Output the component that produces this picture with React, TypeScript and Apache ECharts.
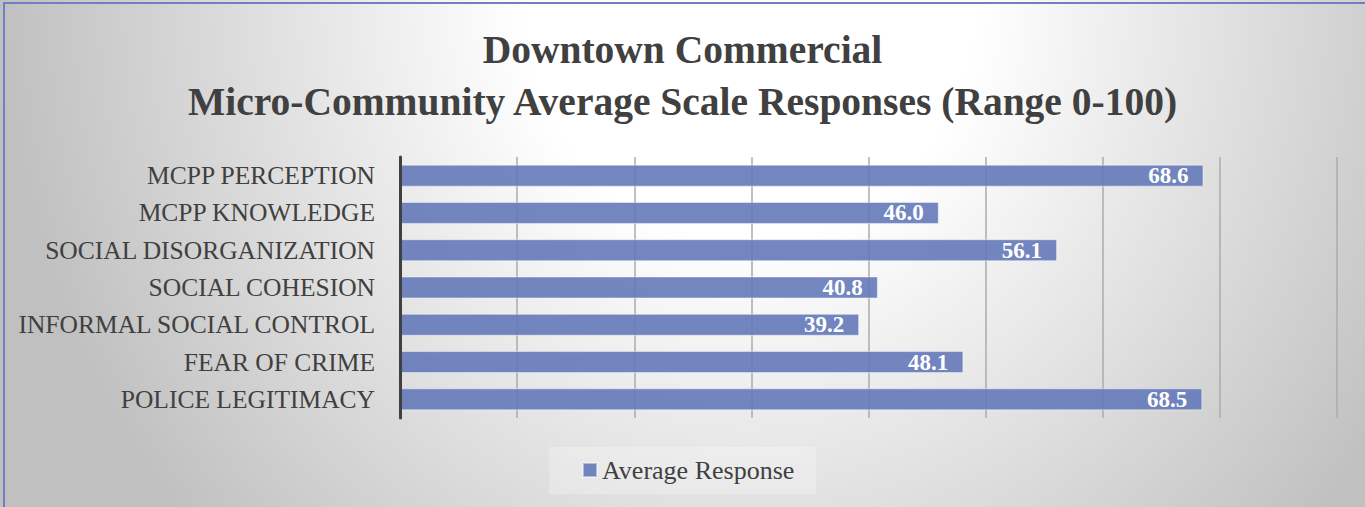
import React, { useEffect, useRef } from "react";
import * as echarts from "echarts";

const categories = [
  "MCPP PERCEPTION",
  "MCPP KNOWLEDGE",
  "SOCIAL DISORGANIZATION",
  "SOCIAL COHESION",
  "INFORMAL SOCIAL CONTROL",
  "FEAR OF CRIME",
  "POLICE LEGITIMACY",
];
const averageResponse = [68.6, 46.0, 56.1, 40.8, 39.2, 48.1, 68.5];
const seriesName = "Average Response";
const titleLines = [
  "Downtown Commercial",
  "Micro-Community Average Scale Responses (Range 0-100)",
];
const axisMin = 0;
const axisMax = 80;
const axisInterval = 10;

const FONT = "'Liberation Serif', 'Times New Roman', serif";

export default function App() {
  const ref = useRef<HTMLDivElement>(null);

  useEffect(() => {
    if (!ref.current) return;
    const chart = echarts.init(ref.current, undefined, { renderer: "svg" });
    chart.setOption({
      animation: false,
      backgroundColor: "transparent",
      title: {
        text: titleLines.join("\n"),
        left: "center",
        top: 24,
        padding: 0,
        textStyle: {
          fontFamily: FONT,
          fontWeight: "bold",
          fontSize: 39.5,
          lineHeight: 52,
          color: "#404040",
        },
      },
      legend: {
        data: [seriesName],
        left: 549,
        top: 447,
        padding: [10, 22, 11, 33],
        backgroundColor: "rgba(255,255,255,0.25)",
        icon: "rect",
        itemWidth: 14,
        itemHeight: 14,
        itemGap: 7,
        textStyle: {
          fontFamily: FONT,
          fontSize: 26,
          color: "#404040",
        },
      },
      grid: {
        left: 400,
        right: 28,
        top: 157,
        bottom: 89,
        containLabel: false,
      },
      xAxis: {
        type: "value",
        min: axisMin,
        max: axisMax,
        interval: axisInterval,
        axisLabel: { show: false },
        axisLine: { show: false },
        axisTick: { show: false },
        splitLine: {
          show: true,
          lineStyle: { color: "#ababab", width: 1.5 },
        },
      },
      yAxis: {
        type: "category",
        data: categories,
        inverse: true,
        axisTick: { show: false },
        axisLine: {
          show: true,
          lineStyle: { color: "#404040", width: 3 },
        },
        axisLabel: {
          margin: 25,
          fontFamily: FONT,
          fontSize: 25.5,
          color: "#404040",
        },
        splitLine: { show: false },
        z: 5,
      },
      series: [
        {
          name: seriesName,
          type: "bar",
          data: averageResponse,
          barCategoryGap: "41%",
          itemStyle: {
            color: "rgba(100,121,185,0.9)",
            borderColor: "rgba(255,255,255,0.45)",
            borderWidth: 1,
          },
          label: {
            show: true,
            position: "insideRight",
            distance: 15,
            fontFamily: FONT,
            fontWeight: "bold",
            fontSize: 23,
            color: "#ffffff",
            formatter: (p: any) => Number(p.value).toFixed(1),
          },
        },
      ],
    });
    return () => chart.dispose();
  }, []);

  return (
    <div
      style={{
        position: "absolute",
        left: 0,
        top: 0,
        width: 1365,
        height: 507,
        overflow: "hidden",
        background:
          "radial-gradient(ellipse 750px 800px at 750px 0px, #ffffff 30%, #c0c0c0 100%)",
      }}
    >
      <div
        style={{
          position: "absolute",
          left: 3,
          top: 2,
          width: 1500,
          height: 700,
          border: "2px solid #6f81c5",
          boxSizing: "border-box",
          pointerEvents: "none",
        }}
      />
      <div
        ref={ref}
        style={{ position: "absolute", left: 0, top: 0, width: 1365, height: 507 }}
      />
    </div>
  );
}
